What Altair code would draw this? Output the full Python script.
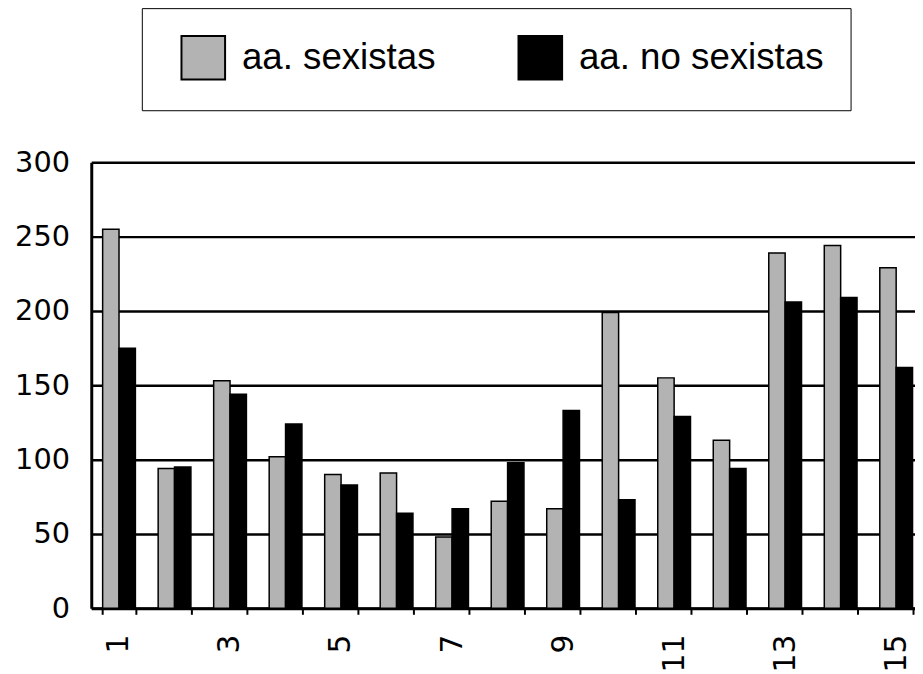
import altair as alt
import pandas as pd

# ---- data ----
categories = list(range(1, 16))
series_names = ["aa. sexistas", "aa. no sexistas"]
sexistas = [255, 94, 153, 102, 90, 91, 48, 72, 67, 199, 155, 113, 239, 244, 229]
no_sexistas = [175, 95, 144, 124, 83, 64, 67, 98, 133, 73, 129, 94, 206, 209, 162]
y_ticks = [0, 50, 100, 150, 200, 250, 300]
colors = ["#b3b3b3", "#000000"]

rows = []
for c, a, b in zip(categories, sexistas, no_sexistas):
    rows.append({"cat": c, "serie": series_names[0], "valor": a})
    rows.append({"cat": c, "serie": series_names[1], "valor": b})
df = pd.DataFrame(rows)

AXFONT = "DejaVu Sans"
LEGFONT = "Liberation Sans"

chart = (
    alt.Chart(df)
    .mark_bar(stroke="black", strokeWidth=1.5)
    .encode(
        x=alt.X(
            "cat:O",
            sort=categories,
            scale=alt.Scale(range=[0, 840], paddingInner=0.41, paddingOuter=0.205),
            axis=alt.Axis(
                title=None,
                labelAngle=270,
                labelExpr="datum.value % 2 == 1 ? datum.label : ''",
                labelFont=AXFONT,
                labelFontSize=30,
                labelColor="black",
                labelPadding=20,
                tickBand="extent",
                tickSize=6,
                tickWidth=2,
                tickColor="black",
                domainColor="black",
                domainWidth=3,
                grid=False,
            ),
        ),
        xOffset=alt.XOffset("serie:N", sort=series_names, scale=alt.Scale(domain=series_names, paddingInner=0, paddingOuter=0)),
        y=alt.Y(
            "valor:Q",
            scale=alt.Scale(domain=[0, 300], nice=False),
            axis=alt.Axis(
                title=None,
                values=y_ticks,
                grid=True,
                gridColor="black",
                gridWidth=2.5,
                gridOpacity=1,
                ticks=False,
                domainColor="black",
                domainWidth=3,
                labelFont=AXFONT,
                labelFontSize=29,
                labelColor="black",
                labelPadding=22,
            ),
        ),
        color=alt.Color(
            "serie:N",
            sort=series_names,
            scale=alt.Scale(domain=series_names, range=colors),
            legend=alt.Legend(
                title=None,
                orient="none",
                legendX=51,
                legendY=-155.5,
                direction="horizontal",
                symbolType="square",
                symbolSize=1936,
                symbolStrokeColor="black",
                symbolStrokeWidth=2,
                symbolOpacity=1,
                symbolOffset=12,
                labelFont=LEGFONT,
                labelFontSize=37,
                labelColor="black",
                labelOffset=16,
                labelLimit=600,
                columnPadding=70,
                padding=27,
                strokeColor="black",
                fillColor="white",
            ),
        ),
    )
    .properties(
        width=831,
        height=450,
        autosize=alt.AutoSizeParams(type="none"),
        padding={"left": 84, "top": 152.7, "right": 0, "bottom": 63.3},
    )
    .configure_view(stroke=None)
    .configure_legend(strokeWidth=2)
    .configure(background="white")
)

chart.save("out.html", embed_options={"renderer": "svg", "actions": False})
